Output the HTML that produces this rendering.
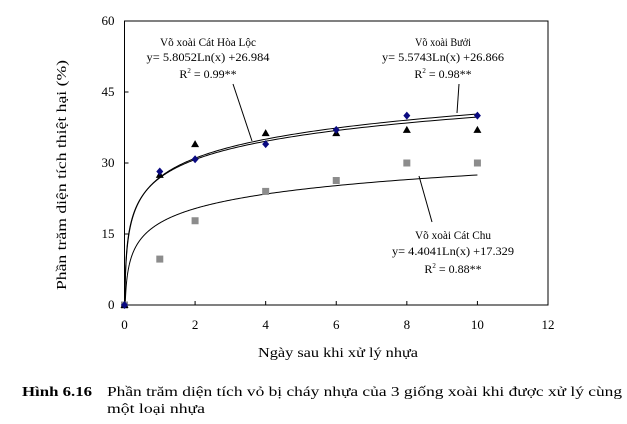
<!DOCTYPE html>
<html><head><meta charset="utf-8"><style>
body{margin:0;background:#fff;}
svg{display:block;font-family:"Liberation Serif","DejaVu Serif",serif;}
</style></head><body>
<svg id="chart" width="627" height="424" viewBox="0 0 627 424">
<rect x="0" y="0" width="627" height="424" fill="#fff"/>
<g id="axes"></g>
<g id="curves"></g>
<g id="marks"></g>
<g font-size="12" fill="#000" text-anchor="middle" lengthAdjust="spacingAndGlyphs">
<text x="208" y="46" textLength="96" lengthAdjust="spacingAndGlyphs">Võ xoài Cát Hòa Lộc</text>
<text x="208" y="61" textLength="123" lengthAdjust="spacingAndGlyphs">y= 5.8052Ln(x) +26.984</text>
<text x="208" y="78">R<tspan font-size="7" dy="-5">2</tspan><tspan dy="5"> = 0.99**</tspan></text>
<text x="443" y="46" textLength="56" lengthAdjust="spacingAndGlyphs">Võ xoài Bưởi</text>
<text x="443" y="61" textLength="122" lengthAdjust="spacingAndGlyphs">y= 5.5743Ln(x) +26.866</text>
<text x="443" y="78">R<tspan font-size="7" dy="-5">2</tspan><tspan dy="5"> = 0.98**</tspan></text>
<text x="453" y="239" textLength="76" lengthAdjust="spacingAndGlyphs">Võ xoài Cát Chu</text>
<text x="453" y="255" textLength="122" lengthAdjust="spacingAndGlyphs">y= 4.4041Ln(x) +17.329</text>
<text x="453" y="273">R<tspan font-size="7" dy="-5">2</tspan><tspan dy="5"> = 0.88**</tspan></text>
</g>
<g stroke="#000" stroke-width="1">
<line x1="233" y1="84" x2="252" y2="141"/>
<line x1="459" y1="84" x2="457" y2="113"/>
<line x1="419" y1="176" x2="432" y2="222"/>
</g>
<text x="0" y="0" font-size="14" text-anchor="middle" textLength="230" lengthAdjust="spacingAndGlyphs" transform="translate(66,175) rotate(-90)">Phần trăm diện tích thiệt hại (%)</text>
<text x="338" y="357" font-size="14" text-anchor="middle" textLength="160" lengthAdjust="spacingAndGlyphs">Ngày sau khi xử lý nhựa</text>
<text x="22" y="396" font-size="14" font-weight="bold" textLength="70" lengthAdjust="spacingAndGlyphs">Hình 6.16</text>
<text x="107" y="396" font-size="14" textLength="515" lengthAdjust="spacingAndGlyphs">Phần trăm diện tích vỏ bị cháy nhựa của 3 giống xoài khi được xử lý cùng</text>
<text x="107" y="413" font-size="14" textLength="98" lengthAdjust="spacingAndGlyphs">một loại nhựa</text>
</svg>
<script>
const days = [0, 1, 2, 4, 6, 8, 10];
const hoaLoc = [0, 27.5, 34, 36.3, 36.3, 37, 37];
const buoi = [0, 28.2, 30.8, 34, 37, 40, 40];
const chu = [0, 9.7, 17.8, 24, 26.3, 30, 30];
const xTicks = [0, 2, 4, 6, 8, 10, 12];
const yTicks = [0, 15, 30, 45, 60];
const fitHoaLoc = [5.8052, 26.984];
const fitBuoi = [5.5743, 26.866];
const fitChu = [4.4041, 17.329];

const L = 124.5, R = 548, T = 21, B = 305;
const sx = v => L + (v - 0) / 12 * (R - L);
const sy = v => B - v / 60 * (B - T);
const NS = 'http://www.w3.org/2000/svg';
function mk(tag, attrs, parent) {
  const e = document.createElementNS(NS, tag);
  for (const k in attrs) e.setAttribute(k, attrs[k]);
  parent.appendChild(e);
  return e;
}
const axes = document.getElementById('axes');
const frame = mk('rect', {x: L, y: T, width: R - L, height: B - T, fill: 'none', stroke: '#000', 'stroke-width': 1}, axes);


xTicks.forEach(t => {
  const ln = mk('line', {x1: sx(t), x2: sx(t), y1: B, y2: B - 4, stroke: '#000'}, axes);
  
  
  const tx = mk('text', {x: sx(t), y: 329, 'font-size': 13, 'text-anchor': 'middle'}, axes);
  tx.textContent = t;
  
  
});
yTicks.forEach(t => {
  const ln = mk('line', {x1: L, x2: L + 4, y1: sy(t), y2: sy(t), stroke: '#000'}, axes);
  
  
  const tx = mk('text', {x: L - 10, y: sy(t) + 4, 'font-size': 13, 'text-anchor': 'end'}, axes);
  tx.textContent = t;
  
  
});
const curves = document.getElementById('curves');
function curve(fit, name, w) {
  const x0 = Math.exp(-fit[1] / fit[0]);
  let d = '';
  for (let i = 0; i <= 400; i++) {
    const x = x0 * Math.pow(10 / x0, i / 400);
    const y = fit[0] * Math.log(x) + fit[1];
    d += (i ? 'L' : 'M') + sx(x).toFixed(2) + ' ' + sy(y).toFixed(2);
  }
  const p = mk('path', {d: d, fill: 'none', stroke: '#000', 'stroke-width': w}, curves);
  
  
}
curve(fitHoaLoc, 'trendline-hoa-loc', 1);
curve(fitBuoi, 'trendline-buoi', 1);
curve(fitChu, 'trendline-chu', 1);
const marks = document.getElementById('marks');
days.forEach((d, i) => {
  const x = sx(d);
  let y = sy(chu[i]);
  const sq = mk('rect', {x: x - 3.5, y: y - 3.5, width: 7, height: 7, fill: '#8c8c8c'}, marks);
  
  
  y = sy(hoaLoc[i]);
  const tri = mk('polygon', {points: `${x},${y - 4} ${x - 4},${y + 3} ${x + 4},${y + 3}`, fill: '#000'}, marks);
  
  
  y = sy(buoi[i]);
  const dm = mk('polygon', {points: `${x},${y - 4} ${x + 3.5},${y} ${x},${y + 4} ${x - 3.5},${y}`, fill: '#0a0a80'}, marks);
  
  
});
</script>
</body></html>
